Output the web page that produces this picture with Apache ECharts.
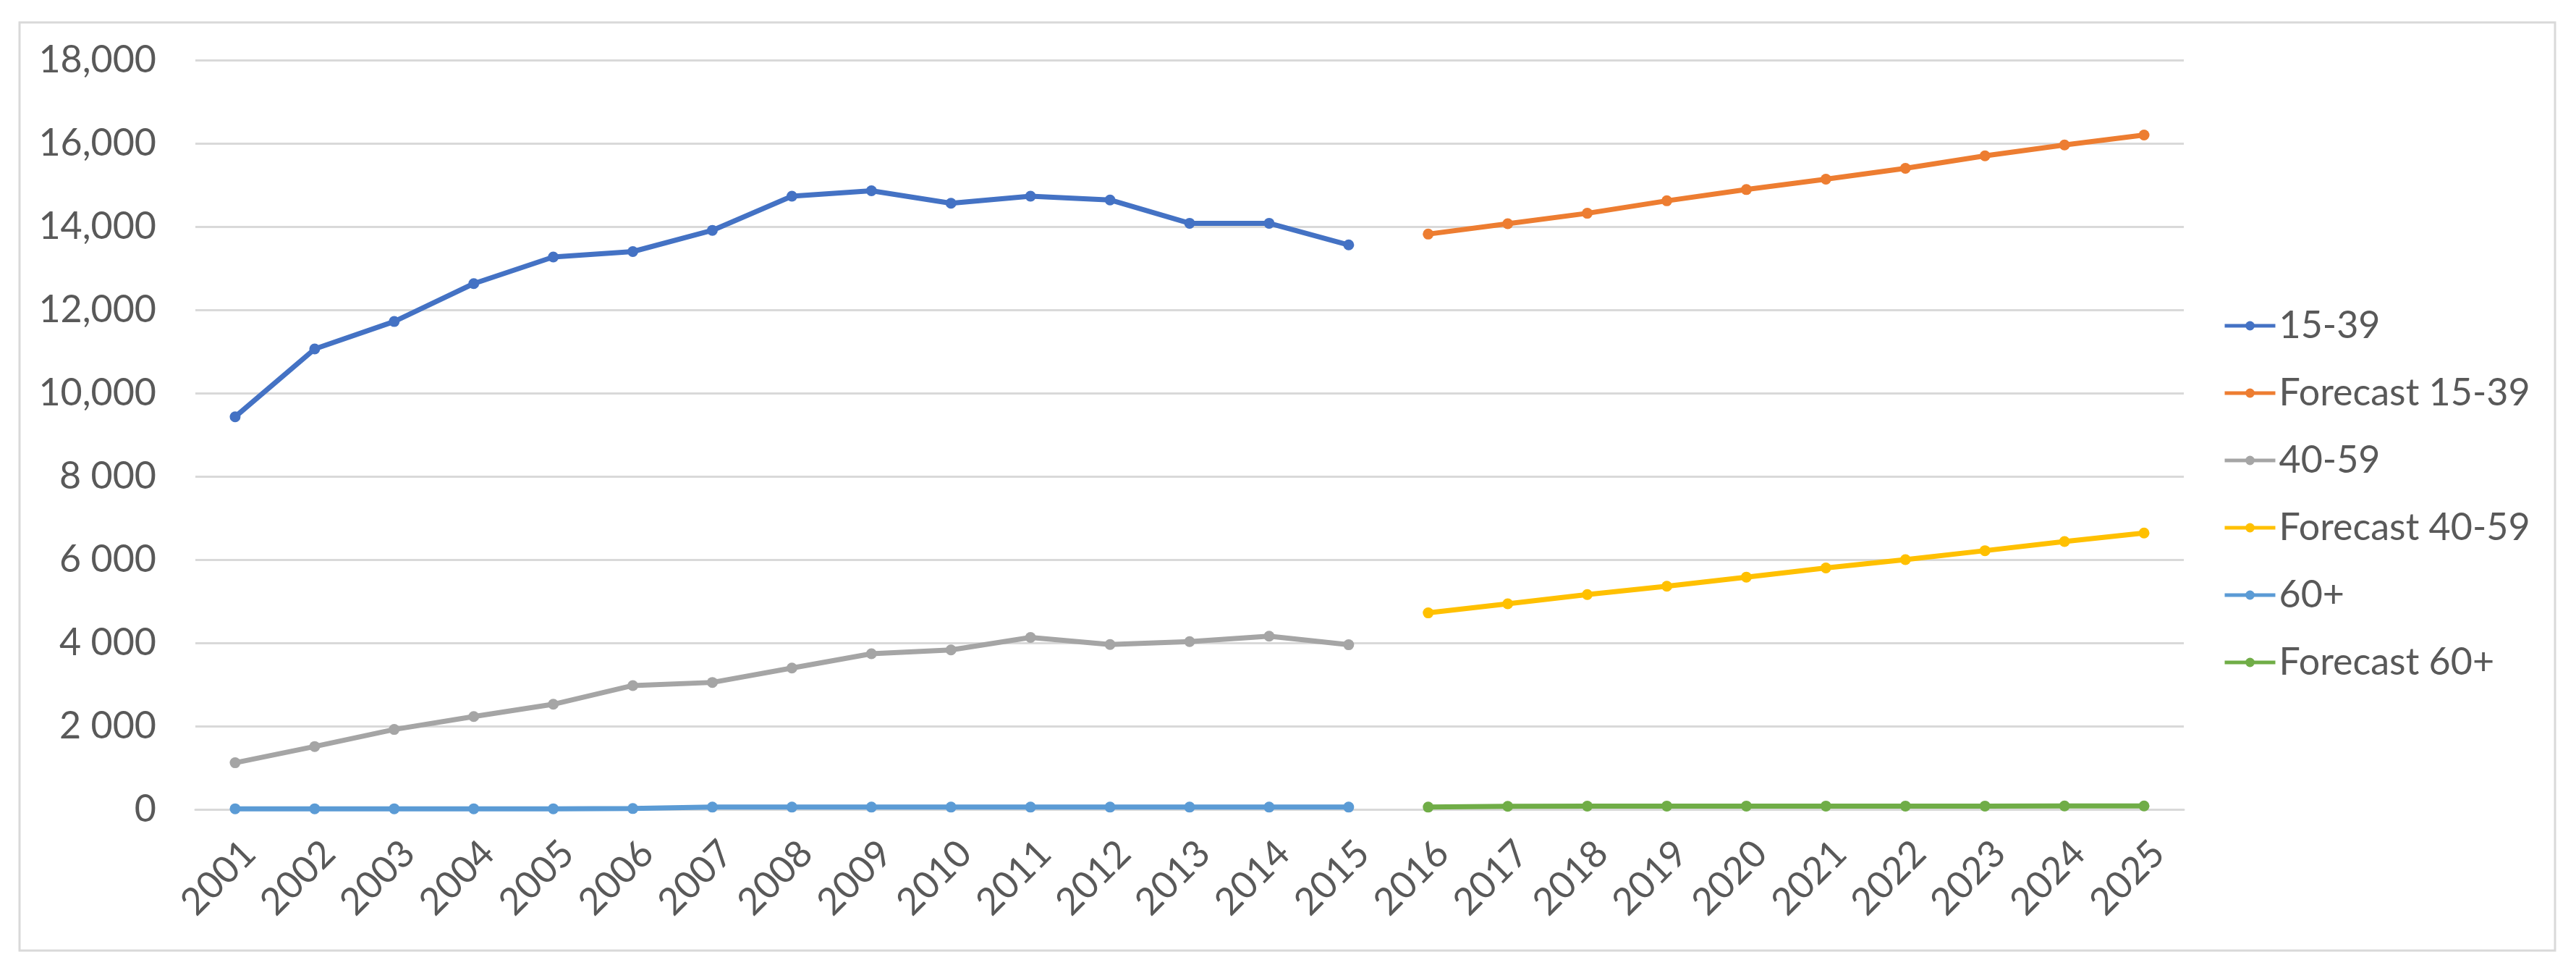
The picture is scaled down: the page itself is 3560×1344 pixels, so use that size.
<!DOCTYPE html>
<html>
<head>
<meta charset="utf-8">
<script src="https://cdn.jsdelivr.net/npm/echarts@6/dist/echarts.min.js"></script>
<style>
html,body{margin:0;padding:0;background:#fff;}
#c{width:3560px;height:1344px;}
</style>
</head>
<body>
<div id="c"></div>
<script>
var years = ['2001','2002','2003','2004','2005','2006','2007','2008','2009','2010','2011','2012','2013','2014','2015','2016','2017','2018','2019','2020','2021','2022','2023','2024','2025'];
var yTickLabels = {0:'0',2000:'2 000',4000:'4 000',6000:'6 000',8000:'8 000',10000:'10,000',12000:'12,000',14000:'14,000',16000:'16,000',18000:'18,000'};

var age1539 = [9430,11060,11720,12630,13270,13400,13910,14730,14860,14560,14730,14640,14080,14080,13560];
var age4059 = [1120,1510,1920,2230,2525,2975,3050,3395,3740,3830,4130,3960,4030,4160,3955];
var age60 = [15,15,15,15,15,20,55,55,55,55,55,55,55,55,55];
var fc1539 = [13820,14070,14320,14620,14890,15140,15400,15700,15960,16200];
var fc4059 = [4720,4940,5160,5360,5580,5800,6000,6215,6435,6640];
var fc60 = [55,75,78,80,80,80,80,80,82,82];

function hist(a){ var r=a.slice(); while(r.length<years.length) r.push(null); return r; }
function fut(a){ var r=[]; while(r.length<years.length-a.length) r.push(null); return r.concat(a); }

var FONT = 'Lato';
var TXT = '#595959';
function ser(name, color, data){
  return {name:name,type:'line',data:data,color:color,symbol:'circle',symbolSize:15,
    lineStyle:{width:7,color:color},itemStyle:{color:color},connectNulls:false,animation:false};
}
var chart = echarts.init(document.getElementById('c'));
chart.setOption({
  animation:false,
  backgroundColor:'#fff',
  textStyle:{fontFamily:FONT},
  graphic:[{type:'rect',shape:{x:27,y:31,width:3504,height:1282},style:{fill:'none',stroke:'#D9D9D9',lineWidth:3},silent:true}],
  grid:{left:270,right:542,top:83,bottom:226,containLabel:false},
  legend:{orient:'vertical',left:3067,top:419,itemWidth:70,itemHeight:16,itemGap:41,
    lineStyle:{width:5},
    textStyle:{fontSize:52,color:TXT,fontFamily:FONT,lineHeight:50,padding:[0,0,0,0]},
    data:['15-39','Forecast 15-39','40-59','Forecast 40-59','60+','Forecast 60+']},
  xAxis:{type:'category',data:years,boundaryGap:true,
    axisLine:{show:true,lineStyle:{color:'#D9D9D9',width:3}},
    axisTick:{show:false},
    axisLabel:{rotate:45,fontSize:52,color:TXT,fontFamily:FONT,margin:72,interval:0,padding:[0,-28,0,0]},
    splitLine:{show:false}},
  yAxis:{type:'value',min:0,max:18000,interval:2000,
    axisLine:{show:false},axisTick:{show:false},
    axisLabel:{fontSize:52,color:TXT,fontFamily:FONT,margin:54,formatter:function(v){return yTickLabels[v]!==undefined?yTickLabels[v]:String(v);}},
    splitLine:{lineStyle:{color:'#D9D9D9',width:3}}},
  series:[
    ser('15-39','#4472C4',hist(age1539)),
    ser('Forecast 15-39','#ED7D31',fut(fc1539)),
    ser('40-59','#A5A5A5',hist(age4059)),
    ser('Forecast 40-59','#FFC000',fut(fc4059)),
    ser('60+','#5B9BD5',hist(age60)),
    ser('Forecast 60+','#70AD47',fut(fc60))
  ]
});
</script>
</body>
</html>
